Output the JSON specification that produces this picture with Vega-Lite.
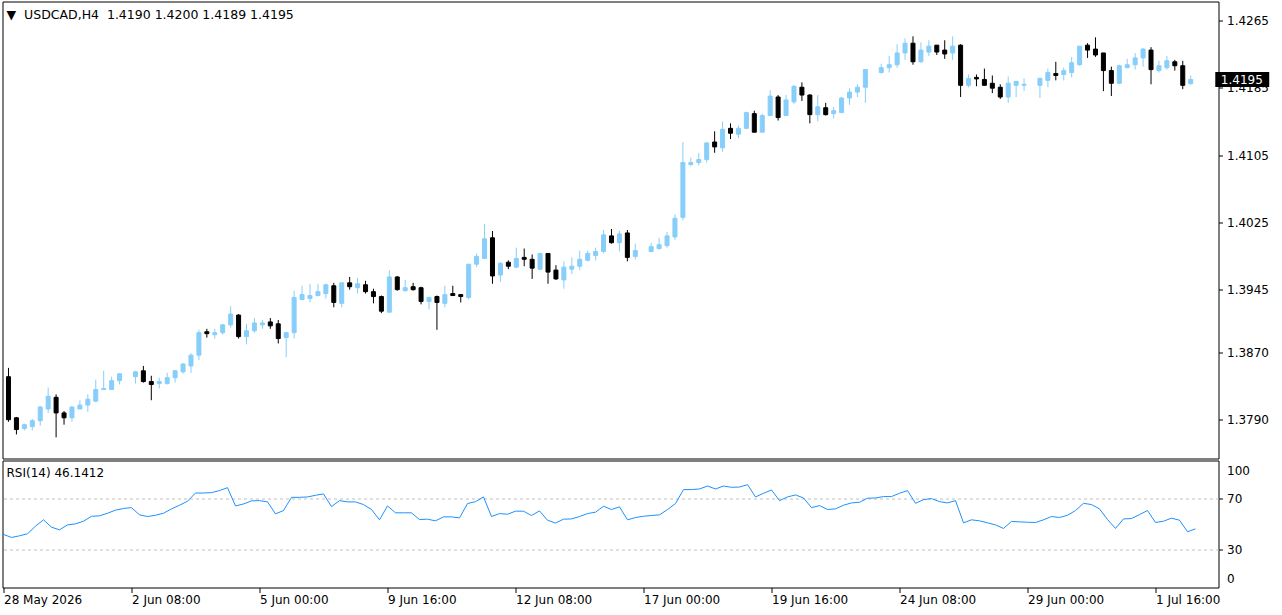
{
"$schema": "https://vega.github.io/schema/vega-lite/v6.json",
"background": "white",
"padding": {"left": 1.5, "top": 0.5, "right": 0, "bottom": 0},
"spacing": 2,
"bounds": "flush",
"config": {
  "font": "DejaVu Sans",
  "view": {"stroke": "#000000", "strokeWidth": 1},
  "axis": {"labelFont": "DejaVu Sans", "labelFontSize": 12, "labelColor": "#000000", "tickColor": "#000000", "domain": false, "grid": false, "title": null},
  "title": {"font": "DejaVu Sans", "fontSize": 12, "fontWeight": "normal", "color": "#000000"}
},
"datasets": {"bars": [
{"i":0,"o":1.38413,"h":1.38518,"l":1.37877,"c":1.37901,"r":41.8},
{"i":1,"o":1.37924,"h":1.37934,"l":1.37726,"c":1.37784,"r":39.4},
{"i":2,"o":1.37796,"h":1.37854,"l":1.37773,"c":1.37842,"r":40.7},
{"i":3,"o":1.37819,"h":1.37912,"l":1.37773,"c":1.37889,"r":42.3},
{"i":4,"o":1.37889,"h":1.38064,"l":1.37831,"c":1.38052,"r":48.3},
{"i":5,"o":1.38029,"h":1.38285,"l":1.37982,"c":1.38180,"r":53.3},
{"i":6,"o":1.38168,"h":1.38203,"l":1.37691,"c":1.37982,"r":47.5},
{"i":7,"o":1.37982,"h":1.38005,"l":1.37842,"c":1.37924,"r":45.4},
{"i":8,"o":1.37924,"h":1.38064,"l":1.37877,"c":1.38052,"r":49.3},
{"i":9,"o":1.38029,"h":1.38133,"l":1.38029,"c":1.38075,"r":50.1},
{"i":10,"o":1.38075,"h":1.38203,"l":1.37994,"c":1.38145,"r":52.2},
{"i":11,"o":1.38122,"h":1.38378,"l":1.38110,"c":1.38261,"r":56.1},
{"i":12,"o":1.38261,"h":1.38483,"l":1.38261,"c":1.38273,"r":56.4},
{"i":13,"o":1.38261,"h":1.38413,"l":1.38261,"c":1.38366,"r":58.5},
{"i":14,"o":1.38366,"h":1.38448,"l":1.38320,"c":1.38448,"r":60.9},
{"i":15,"r":62.2},
{"i":16,"o":1.38413,"h":1.38483,"l":1.38331,"c":1.38471,"r":62.9},
{"i":17,"o":1.38483,"h":1.38541,"l":1.38343,"c":1.38355,"r":57.2},
{"i":18,"o":1.38355,"h":1.38424,"l":1.38133,"c":1.38320,"r":55.9},
{"i":19,"o":1.38331,"h":1.38401,"l":1.38273,"c":1.38355,"r":56.9},
{"i":20,"o":1.38331,"h":1.38459,"l":1.38320,"c":1.38401,"r":58.5},
{"i":21,"o":1.38401,"h":1.38494,"l":1.38343,"c":1.38483,"r":61.9},
{"i":22,"o":1.38471,"h":1.38576,"l":1.38448,"c":1.38564,"r":64.8},
{"i":23,"o":1.38541,"h":1.38692,"l":1.38459,"c":1.38669,"r":67.9},
{"i":24,"o":1.38669,"h":1.38971,"l":1.38611,"c":1.38937,"r":74.4},
{"i":25,"o":1.38948,"h":1.38983,"l":1.38878,"c":1.38925,"r":74.4},
{"i":26,"o":1.38913,"h":1.38983,"l":1.38867,"c":1.38937,"r":74.7},
{"i":27,"o":1.38937,"h":1.39042,"l":1.38913,"c":1.39030,"r":76.3},
{"i":28,"o":1.39030,"h":1.39251,"l":1.38995,"c":1.39158,"r":78.6},
{"i":29,"o":1.39146,"h":1.39158,"l":1.38867,"c":1.38890,"r":64.2},
{"i":30,"o":1.38890,"h":1.39042,"l":1.38797,"c":1.38960,"r":65.8},
{"i":31,"o":1.38960,"h":1.39111,"l":1.38937,"c":1.39053,"r":68.2},
{"i":32,"o":1.39030,"h":1.39088,"l":1.38983,"c":1.39053,"r":68.4},
{"i":33,"o":1.39065,"h":1.39111,"l":1.38983,"c":1.39018,"r":67.4},
{"i":34,"o":1.39042,"h":1.39088,"l":1.38809,"c":1.38867,"r":58.0},
{"i":35,"o":1.38878,"h":1.38948,"l":1.38646,"c":1.38937,"r":60.6},
{"i":36,"o":1.38937,"h":1.39437,"l":1.38867,"c":1.39356,"r":71.0},
{"i":37,"o":1.39332,"h":1.39495,"l":1.39332,"c":1.39390,"r":71.0},
{"i":38,"o":1.39344,"h":1.39519,"l":1.39297,"c":1.39379,"r":71.3},
{"i":39,"o":1.39379,"h":1.39519,"l":1.39367,"c":1.39425,"r":72.6},
{"i":40,"o":1.39402,"h":1.39519,"l":1.39344,"c":1.39507,"r":73.7},
{"i":41,"o":1.39495,"h":1.39530,"l":1.39239,"c":1.39297,"r":63.7},
{"i":42,"o":1.39286,"h":1.39530,"l":1.39239,"c":1.39530,"r":68.4},
{"i":43,"o":1.39530,"h":1.39600,"l":1.39449,"c":1.39484,"r":67.4},
{"i":44,"o":1.39472,"h":1.39589,"l":1.39402,"c":1.39519,"r":67.4},
{"i":45,"o":1.39507,"h":1.39554,"l":1.39402,"c":1.39425,"r":65.3},
{"i":46,"o":1.39425,"h":1.39460,"l":1.39286,"c":1.39367,"r":61.4},
{"i":47,"o":1.39367,"h":1.39379,"l":1.39170,"c":1.39193,"r":53.3},
{"i":48,"o":1.39181,"h":1.39682,"l":1.39181,"c":1.39600,"r":64.2},
{"i":49,"o":1.39600,"h":1.39612,"l":1.39437,"c":1.39449,"r":58.8},
{"i":50,"o":1.39437,"h":1.39565,"l":1.39425,"c":1.39472,"r":58.8},
{"i":51,"o":1.39484,"h":1.39530,"l":1.39437,"c":1.39449,"r":58.8},
{"i":52,"o":1.39472,"h":1.39484,"l":1.39274,"c":1.39309,"r":53.5},
{"i":53,"o":1.39309,"h":1.39367,"l":1.39216,"c":1.39356,"r":53.8},
{"i":54,"o":1.39367,"h":1.39379,"l":1.38971,"c":1.39297,"r":52.5},
{"i":55,"o":1.39286,"h":1.39495,"l":1.39239,"c":1.39390,"r":55.6},
{"i":56,"o":1.39402,"h":1.39495,"l":1.39379,"c":1.39379,"r":55.6},
{"i":57,"o":1.39390,"h":1.39390,"l":1.39297,"c":1.39367,"r":54.8},
{"i":58,"o":1.39356,"h":1.39752,"l":1.39332,"c":1.39752,"r":66.1},
{"i":59,"o":1.39752,"h":1.39880,"l":1.39717,"c":1.39845,"r":67.6},
{"i":60,"o":1.39821,"h":1.40229,"l":1.39821,"c":1.40054,"r":71.3},
{"i":61,"o":1.40066,"h":1.40147,"l":1.39519,"c":1.39612,"r":55.9},
{"i":62,"o":1.39623,"h":1.39775,"l":1.39542,"c":1.39763,"r":58.2},
{"i":63,"o":1.39775,"h":1.39798,"l":1.39693,"c":1.39728,"r":57.7},
{"i":64,"o":1.39717,"h":1.39949,"l":1.39705,"c":1.39821,"r":60.1},
{"i":65,"o":1.39833,"h":1.39938,"l":1.39728,"c":1.39810,"r":60.1},
{"i":66,"o":1.39810,"h":1.39868,"l":1.39577,"c":1.39705,"r":56.7},
{"i":67,"o":1.39693,"h":1.39880,"l":1.39682,"c":1.39880,"r":60.3},
{"i":68,"o":1.39880,"h":1.39880,"l":1.39519,"c":1.39658,"r":53.0},
{"i":69,"o":1.39682,"h":1.39740,"l":1.39565,"c":1.39577,"r":50.7},
{"i":70,"o":1.39565,"h":1.39786,"l":1.39460,"c":1.39717,"r":53.8},
{"i":71,"o":1.39693,"h":1.39833,"l":1.39635,"c":1.39728,"r":54.0},
{"i":72,"o":1.39728,"h":1.39914,"l":1.39682,"c":1.39810,"r":55.9},
{"i":73,"o":1.39798,"h":1.39914,"l":1.39786,"c":1.39880,"r":58.2},
{"i":74,"o":1.39856,"h":1.39949,"l":1.39798,"c":1.39903,"r":59.3},
{"i":75,"o":1.39903,"h":1.40159,"l":1.39880,"c":1.40101,"r":64.0},
{"i":76,"o":1.40089,"h":1.40171,"l":1.39996,"c":1.40008,"r":61.4},
{"i":77,"o":1.40008,"h":1.40147,"l":1.39903,"c":1.40112,"r":63.5},
{"i":78,"o":1.40124,"h":1.40159,"l":1.39786,"c":1.39833,"r":53.3},
{"i":79,"o":1.39845,"h":1.39996,"l":1.39810,"c":1.39914,"r":55.1},
{"i":80,"r":56.1},
{"i":81,"o":1.39903,"h":1.40008,"l":1.39903,"c":1.39961,"r":56.7},
{"i":82,"o":1.39938,"h":1.40066,"l":1.39926,"c":1.39984,"r":57.2},
{"i":83,"o":1.39973,"h":1.40136,"l":1.39949,"c":1.40089,"r":61.4},
{"i":84,"o":1.40077,"h":1.40345,"l":1.40042,"c":1.40299,"r":66.1},
{"i":85,"o":1.40310,"h":1.41206,"l":1.40275,"c":1.40962,"r":77.1},
{"i":86,"o":1.40939,"h":1.41020,"l":1.40915,"c":1.40962,"r":77.1},
{"i":87,"o":1.40962,"h":1.41078,"l":1.40927,"c":1.40997,"r":77.6},
{"i":88,"o":1.40997,"h":1.41206,"l":1.40962,"c":1.41195,"r":79.9},
{"i":89,"o":1.41206,"h":1.41334,"l":1.41078,"c":1.41148,"r":77.6},
{"i":90,"o":1.41137,"h":1.41451,"l":1.41090,"c":1.41358,"r":79.9},
{"i":91,"o":1.41369,"h":1.41428,"l":1.41241,"c":1.41311,"r":78.9},
{"i":92,"o":1.41300,"h":1.41404,"l":1.41253,"c":1.41369,"r":79.1},
{"i":93,"o":1.41369,"h":1.41567,"l":1.41358,"c":1.41556,"r":81.0},
{"i":94,"o":1.41544,"h":1.41579,"l":1.41323,"c":1.41323,"r":71.3},
{"i":95,"o":1.41323,"h":1.41544,"l":1.41323,"c":1.41521,"r":74.2},
{"i":96,"o":1.41521,"h":1.41823,"l":1.41521,"c":1.41753,"r":76.8},
{"i":97,"o":1.41742,"h":1.41765,"l":1.41462,"c":1.41497,"r":68.4},
{"i":98,"o":1.41521,"h":1.41765,"l":1.41521,"c":1.41707,"r":71.3},
{"i":99,"o":1.41684,"h":1.41882,"l":1.41660,"c":1.41870,"r":72.9},
{"i":100,"o":1.41858,"h":1.41916,"l":1.41695,"c":1.41765,"r":70.5},
{"i":101,"o":1.41765,"h":1.41777,"l":1.41428,"c":1.41532,"r":62.9},
{"i":102,"o":1.41532,"h":1.41765,"l":1.41451,"c":1.41625,"r":64.5},
{"i":103,"o":1.41614,"h":1.41672,"l":1.41521,"c":1.41532,"r":61.4},
{"i":104,"o":1.41544,"h":1.41625,"l":1.41486,"c":1.41579,"r":61.9},
{"i":105,"o":1.41556,"h":1.41742,"l":1.41556,"c":1.41730,"r":64.8},
{"i":106,"o":1.41730,"h":1.41847,"l":1.41649,"c":1.41800,"r":66.6},
{"i":107,"o":1.41800,"h":1.41893,"l":1.41742,"c":1.41858,"r":67.1},
{"i":108,"o":1.41858,"h":1.42068,"l":1.41672,"c":1.42068,"r":70.3},
{"i":109,"r":70.5},
{"i":110,"o":1.42033,"h":1.42138,"l":1.42021,"c":1.42091,"r":71.6},
{"i":111,"o":1.42091,"h":1.42231,"l":1.42033,"c":1.42126,"r":71.6},
{"i":112,"o":1.42126,"h":1.42370,"l":1.42091,"c":1.42266,"r":74.2},
{"i":113,"o":1.42266,"h":1.42440,"l":1.42184,"c":1.42382,"r":76.3},
{"i":114,"o":1.42382,"h":1.42464,"l":1.42126,"c":1.42161,"r":66.3},
{"i":115,"o":1.42161,"h":1.42394,"l":1.42149,"c":1.42300,"r":69.2},
{"i":116,"o":1.42277,"h":1.42417,"l":1.42231,"c":1.42347,"r":70.0},
{"i":117,"o":1.42359,"h":1.42359,"l":1.42242,"c":1.42277,"r":67.6},
{"i":118,"o":1.42300,"h":1.42417,"l":1.42196,"c":1.42254,"r":66.6},
{"i":119,"o":1.42266,"h":1.42464,"l":1.42184,"c":1.42347,"r":68.4},
{"i":120,"o":1.42359,"h":1.42370,"l":1.41742,"c":1.41881,"r":50.9},
{"i":121,"o":1.41881,"h":1.42010,"l":1.41858,"c":1.41963,"r":53.3},
{"i":122,"o":1.41975,"h":1.42010,"l":1.41870,"c":1.41957,"r":52.5},
{"i":123,"o":1.41951,"h":1.42080,"l":1.41881,"c":1.41881,"r":50.9},
{"i":124,"o":1.41905,"h":1.41998,"l":1.41788,"c":1.41847,"r":49.3},
{"i":125,"o":1.41858,"h":1.41893,"l":1.41719,"c":1.41742,"r":46.5},
{"i":126,"o":1.41742,"h":1.41986,"l":1.41672,"c":1.41905,"r":52.0},
{"i":127,"o":1.41881,"h":1.41928,"l":1.41742,"c":1.41928,"r":51.7},
{"i":128,"o":1.41881,"h":1.41963,"l":1.41812,"c":1.41893,"r":51.4},
{"i":129,"r":51.2},
{"i":130,"o":1.41881,"h":1.41975,"l":1.41730,"c":1.41963,"r":53.3},
{"i":131,"o":1.41940,"h":1.42080,"l":1.41858,"c":1.42033,"r":55.9},
{"i":132,"o":1.42021,"h":1.42161,"l":1.41940,"c":1.41998,"r":55.1},
{"i":133,"o":1.42010,"h":1.42091,"l":1.41940,"c":1.42056,"r":56.9},
{"i":134,"o":1.42033,"h":1.42219,"l":1.41975,"c":1.42149,"r":60.6},
{"i":135,"o":1.42126,"h":1.42347,"l":1.42114,"c":1.42347,"r":66.3},
{"i":136,"o":1.42359,"h":1.42382,"l":1.42207,"c":1.42300,"r":65.3},
{"i":137,"o":1.42312,"h":1.42452,"l":1.42219,"c":1.42242,"r":61.9},
{"i":138,"o":1.42266,"h":1.42266,"l":1.41812,"c":1.42056,"r":53.5},
{"i":139,"o":1.42056,"h":1.42103,"l":1.41754,"c":1.41905,"r":46.5},
{"i":140,"o":1.41905,"h":1.42126,"l":1.41893,"c":1.42114,"r":54.0},
{"i":141,"o":1.42091,"h":1.42196,"l":1.42091,"c":1.42126,"r":54.3},
{"i":142,"o":1.42126,"h":1.42266,"l":1.42068,"c":1.42207,"r":57.4},
{"i":143,"o":1.42207,"h":1.42324,"l":1.42103,"c":1.42312,"r":60.6},
{"i":144,"o":1.42300,"h":1.42335,"l":1.41893,"c":1.42068,"r":51.2},
{"i":145,"o":1.42056,"h":1.42173,"l":1.42033,"c":1.42114,"r":52.2},
{"i":146,"o":1.42091,"h":1.42231,"l":1.42068,"c":1.42173,"r":54.6},
{"i":147,"o":1.42161,"h":1.42184,"l":1.42056,"c":1.42114,"r":53.0},
{"i":148,"o":1.42114,"h":1.42173,"l":1.41835,"c":1.41881,"r":43.9},
{"i":149,"o":1.4190,"h":1.4200,"l":1.4189,"c":1.4195,"r":46.1412}
]},
"vconcat": [
{
  "width": 1216, "height": 457,
  "title": {"text": "▼\u00a0\u00a0USDCAD,H4\u00a0\u00a01.4190 1.4200 1.4189 1.4195", "anchor": "start", "offset": -20, "dx": 4, "fontSize": 12.5},
  "data": {"name": "bars"},
  "encoding": {"x": {"field": "i", "type": "quantitative", "scale": {"domain": [-0.125, 151.875], "nice": false, "zero": false}, "axis": null}},
  "layer": [
    {"mark": {"type": "rule", "clip": true, "strokeWidth": 1},
     "encoding": {
       "y": {"field": "l", "type": "quantitative", "scale": {"domain": [1.37499, 1.42819], "nice": false, "zero": false},
             "axis": {"orient": "right", "values": [1.379, 1.387, 1.3945, 1.4025, 1.4105, 1.4185, 1.4265], "format": ".4f", "tickSize": 4, "labelPadding": 4}},
       "y2": {"field": "h"},
       "stroke": {"condition": {"test": "datum.c >= datum.o", "value": "#87CEFA"}, "value": "#000000"}}},
    {"mark": {"type": "bar", "size": 4, "strokeWidth": 1, "clip": true},
     "encoding": {
       "y": {"field": "o", "type": "quantitative"},
       "y2": {"field": "c"},
       "fill": {"condition": {"test": "datum.c >= datum.o", "value": "#87CEFA"}, "value": "#000000"},
       "stroke": {"condition": {"test": "datum.c >= datum.o", "value": "#87CEFA"}, "value": "#000000"}}},
    {"transform": [{"filter": "datum.i == 149"}],
     "mark": {"type": "bar", "size": 15, "fill": "#000000"},
     "encoding": {"x": {"datum": 152.1}, "x2": {"datum": 158.9}, "y": {"field": "c", "type": "quantitative"}}},
    {"transform": [{"filter": "datum.i == 149"}],
     "mark": {"type": "text", "align": "left", "baseline": "middle", "color": "#ffffff", "fontSize": 12, "font": "DejaVu Sans"},
     "encoding": {"x": {"datum": 152.8}, "y": {"field": "c", "type": "quantitative"}, "text": {"field": "c", "type": "quantitative", "format": ".4f"}}}
  ]
},
{
  "width": 1216, "height": 127,
  "title": {"text": "RSI(14) 46.1412", "anchor": "start", "offset": -19, "dx": 4},
  "data": {"name": "bars"},
  "mark": {"type": "line", "color": "#1E90FF", "strokeWidth": 1, "clip": true},
  "encoding": {
    "x": {"field": "i", "type": "quantitative", "scale": {"domain": [-0.125, 151.875], "nice": false, "zero": false},
          "axis": {"orient": "bottom", "values": [0, 16, 32, 48, 64, 80, 96, 112, 128, 144],
                   "labelExpr": "['28 May 2026','2 Jun 08:00','5 Jun 00:00','9 Jun 16:00','12 Jun 08:00','17 Jun 00:00','19 Jun 16:00','24 Jun 08:00','29 Jun 00:00','1 Jul 16:00'][round(datum.value/16)]",
                   "labelAlign": "left", "tickSize": 5, "labelPadding": 2, "labelFlush": false, "labelOverlap": false}},
    "y": {"field": "r", "type": "quantitative", "scale": {"domain": [0, 100], "nice": false, "zero": false},
          "axis": {"orient": "right", "values": [0, 30, 70, 100], "grid": true, "gridDash": [3, 3], "gridColor": "#c0c0c0",
                   "gridOpacity": {"condition": {"test": "datum.value == 30 || datum.value == 70", "value": 1}, "value": 0},
                   "tickOpacity": {"condition": {"test": "datum.value == 30 || datum.value == 70", "value": 1}, "value": 0},
                   "labelOffset": {"condition": [{"test": "datum.value == 100", "value": 10}, {"test": "datum.value == 0", "value": -9}], "value": 0},
                   "tickSize": 4, "labelPadding": 4}}
  }
}
]
}
